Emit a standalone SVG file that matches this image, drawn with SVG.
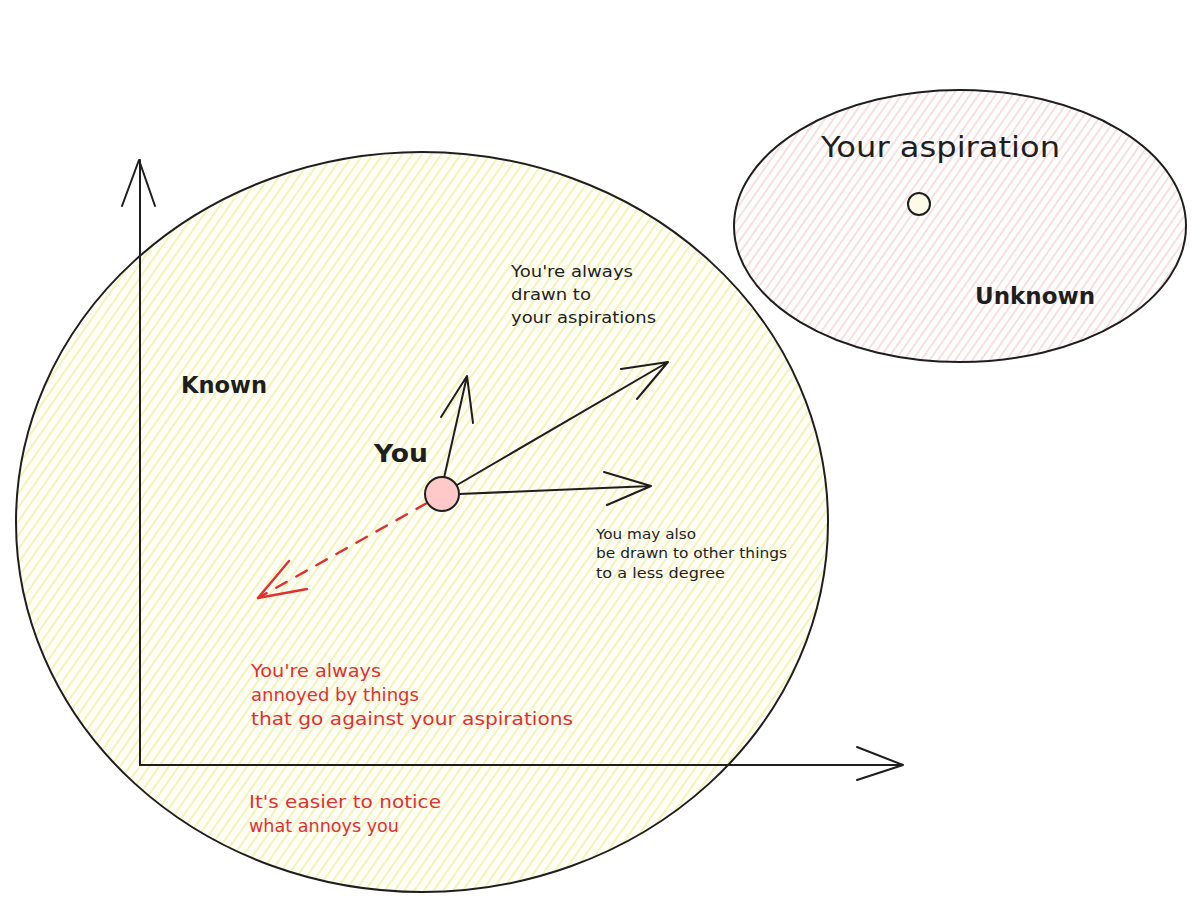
<svg xmlns="http://www.w3.org/2000/svg" width="1200" height="909" viewBox="0 0 1200 909">
<style>
.ln{fill:none;stroke:#1e1e1e;stroke-width:2;stroke-linecap:round;stroke-linejoin:round}
.red{fill:none;stroke:#e03131;stroke-width:2.4;stroke-linecap:round;stroke-linejoin:round}
.t{font-family:"DejaVu Sans","Liberation Sans",sans-serif;fill:#1e1e1e}
.r{fill:#e03131}
</style>
<defs>
<pattern id="hy" width="8" height="8" patternUnits="userSpaceOnUse" patternTransform="rotate(35)">
<line x1="2" y1="0" x2="2" y2="8" stroke="#ecec9c" stroke-width="1.3"/>
</pattern>
<pattern id="hp" width="7" height="7" patternUnits="userSpaceOnUse" patternTransform="rotate(35)">
<line x1="2" y1="0" x2="2" y2="7" stroke="#f2c4c4" stroke-width="1.1"/>
</pattern>
</defs>
<rect width="1200" height="909" fill="#ffffff"/>
<g id="known">
<ellipse cx="422" cy="522" rx="406" ry="370" fill="#fefef6"/>
<ellipse cx="422" cy="522" rx="406" ry="370" fill="url(#hy)" stroke="#1e1e1e" stroke-width="2"/>
<text class="t" x="181" y="393" font-size="23" font-weight="bold" textLength="86" lengthAdjust="spacingAndGlyphs">Known</text>
</g>
<g id="unknown">
<ellipse cx="960" cy="226" rx="226" ry="136" fill="url(#hp)" stroke="#1e1e1e" stroke-width="2"/>
<text class="t" x="975" y="304" font-size="23" font-weight="bold" textLength="120" lengthAdjust="spacingAndGlyphs">Unknown</text>
</g>
<g id="aspiration">
<circle cx="919" cy="204" r="11" fill="#fdfbe8" stroke="#1e1e1e" stroke-width="2"/>
<text class="t" x="821" y="157" font-size="28" textLength="239" lengthAdjust="spacingAndGlyphs">Your aspiration</text>
</g>
<g id="connectors">
<path class="ln" d="M140,765 L140,160 M122,206 L139,160 L155,206"/>
<path class="ln" d="M140,765 L903,765 M857,747 L903,765 L857,780"/>
<path class="ln" d="M444,478 L467,376 M441,417 L467,376 L473,423"/>
<path class="ln" d="M457,485 L668,362 M621,369 L668,362 L637,399"/>
<path class="ln" d="M459,494 L651,486 M604,472 L651,486 L607,505"/>
<path class="red" d="M427,503 L258,598" stroke-dasharray="12 11"/>
<path class="red" d="M289,561 L258,598 L307,589"/>
</g>
<g id="you">
<circle cx="442" cy="494" r="17" fill="#ffc9c9" stroke="#1e1e1e" stroke-width="2"/>
<text class="t" x="374" y="462" font-size="25" font-weight="bold" textLength="54" lengthAdjust="spacingAndGlyphs">You</text>
</g>
<g id="note-drawn">
<text class="t" font-size="16" lengthAdjust="spacingAndGlyphs"><tspan x="511" y="277" textLength="122" lengthAdjust="spacingAndGlyphs">You're always</tspan><tspan x="511" y="300" textLength="80" lengthAdjust="spacingAndGlyphs">drawn to</tspan><tspan x="511" y="323" textLength="145" lengthAdjust="spacingAndGlyphs">your aspirations</tspan></text>
</g>
<g id="note-other">
<text class="t" font-size="14.5"><tspan x="596" y="539" textLength="100" lengthAdjust="spacingAndGlyphs">You may also</tspan><tspan x="596" y="558" textLength="191" lengthAdjust="spacingAndGlyphs">be drawn to other things</tspan><tspan x="596" y="578" textLength="129" lengthAdjust="spacingAndGlyphs">to a less degree</tspan></text>
</g>
<g id="note-annoyed">
<text class="t r" font-size="18"><tspan x="251" y="677" textLength="130" lengthAdjust="spacingAndGlyphs">You're always</tspan><tspan x="251" y="701" textLength="168" lengthAdjust="spacingAndGlyphs">annoyed by things</tspan><tspan x="251" y="725" textLength="322" lengthAdjust="spacingAndGlyphs">that go against your aspirations</tspan></text>
</g>
<g id="note-notice">
<text class="t r" font-size="17.5"><tspan x="249" y="808" textLength="192" lengthAdjust="spacingAndGlyphs">It's easier to notice</tspan><tspan x="249" y="832" textLength="150" lengthAdjust="spacingAndGlyphs">what annoys you</tspan></text>
</g>
</svg>
